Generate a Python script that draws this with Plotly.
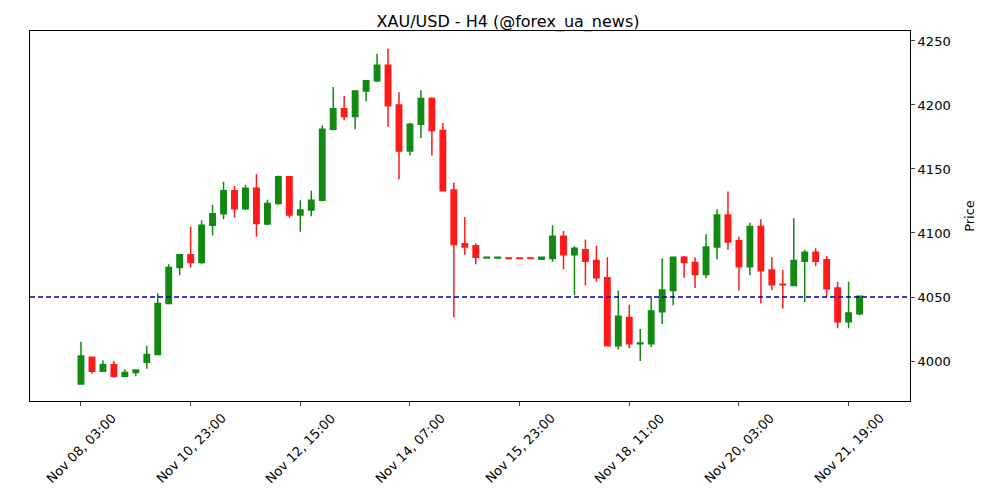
import plotly.graph_objects as go

opens = [3982, 4003, 3992, 3997, 3988, 3991, 3999, 4005, 4045, 4073,
         4083, 4077, 4106, 4115, 4133, 4119, 4135, 4107, 4123, 4144,
         4114, 4118, 4125.5, 4181, 4197, 4191, 4211, 4219, 4231, 4200,
         4164, 4185, 4205, 4180, 4133.5, 4091.5, 4090, 4080.5, 4080.5, 4080.5,
         4080.5, 4080.5, 4079.5, 4080, 4097.5, 4083, 4087, 4078.6, 4065, 4012,
         4034, 4013.5, 4013.5, 4038.5, 4055, 4081, 4077, 4067.5, 4089, 4114,
         4094, 4073.6, 4105, 4071, 4060, 4059, 4078, 4085, 4079, 4057,
         4030.7, 4037]
closes = [4004, 3992, 3997, 3988, 3991, 3993, 4005, 4045, 4073, 4083,
          4077, 4106, 4115, 4133, 4119, 4135, 4107.5, 4123, 4144, 4114,
          4118, 4125.5, 4181, 4197, 4191, 4211, 4219, 4231, 4199.5, 4164,
          4185, 4205, 4180, 4133, 4091, 4089, 4081, 4081, 4081, 4080,
          4080, 4080, 4081, 4097.5, 4083, 4088, 4078, 4065, 4012, 4035,
          4013.5, 4014, 4039, 4055.5, 4081, 4077, 4067.5, 4089, 4114, 4093,
          4073.6, 4105, 4070.5, 4059.6, 4059.5, 4078.6, 4085, 4078, 4056.5, 4030.7,
          4037.5, 4050.5]
highs = [4015, 4003, 4000.5, 4000, 3993.5, 3993, 4012, 4053, 4075.5, 4083,
         4105, 4110, 4122, 4140, 4137, 4137.5, 4146, 4126, 4145, 4144.5,
         4125.5, 4133, 4184, 4214, 4207, 4211.5, 4219.5, 4240, 4244, 4210,
         4186, 4211.5, 4206, 4186, 4139.5, 4112.5, 4092, 4081.3, 4081.3, 4080.8,
         4080.8, 4080.8, 4081.3, 4106, 4101.5, 4089.6, 4095, 4090, 4081, 4055,
         4044, 4025, 4050.5, 4080, 4081.3, 4082, 4081, 4099, 4118.5, 4132.5,
         4097, 4108, 4110.7, 4081, 4071, 4111.5, 4087, 4088, 4082, 4062,
         4062, 4051]
lows = [3981.5, 3990, 3992, 3987, 3988, 3988, 3994, 4004.5, 4044.5, 4067,
        4073, 4076, 4098, 4111, 4112, 4118, 4097, 4106, 4122, 4112,
        4101, 4113, 4125, 4180, 4188, 4181, 4203, 4218, 4183, 4142,
        4160.5, 4174, 4160.5, 4132.5, 4034, 4083, 4075.5, 4080, 4080, 4079.7,
        4079.7, 4079.7, 4079.3, 4077.5, 4071.6, 4051.6, 4059, 4062, 4011.5, 4009,
        4010, 4000, 4011, 4029, 4043.5, 4065, 4057, 4064.6, 4079.5, 4087,
        4055, 4067, 4045, 4055.5, 4041, 4058.5, 4046, 4074, 4050, 4025.5,
        4025.5, 4035.7]

tick_idx = [0, 10, 20, 30, 40, 50, 60, 70]
tick_labels = ["Nov 08, 03:00", "Nov 10, 23:00", "Nov 12, 15:00", "Nov 14, 07:00",
               "Nov 15, 23:00", "Nov 18, 11:00", "Nov 20, 03:00", "Nov 21, 19:00"]
ref_level = 4050

x = list(range(len(opens)))

fig = go.Figure()
fig.add_trace(go.Candlestick(
    x=x, open=opens, high=highs, low=lows, close=closes,
    increasing=dict(line=dict(color="#128a12", width=1.5), fillcolor="#128a12"),
    decreasing=dict(line=dict(color="#ff1a1a", width=1.5), fillcolor="#ff1a1a"),
    whiskerwidth=0, showlegend=False, hoverinfo="x+y",
))
fig.add_hline(y=ref_level, line=dict(color="#0000a0", width=1.3, dash="5px,3px"))

# rotated date labels centred under their ticks, as matplotlib does
for t, lab in zip(tick_idx, tick_labels):
    fig.add_annotation(x=t, y=0, xref="x", yref="paper", text=lab, showarrow=False,
                       textangle=-45, xanchor="center", yanchor="middle",
                       yshift=-47, font=dict(size=13))

fig.update_layout(
    width=1000, height=500, template="plotly_white",
    plot_bgcolor="white", paper_bgcolor="white",
    margin=dict(l=22, r=98, t=23, b=107),
    font=dict(family="DejaVu Sans", size=13, color="black"),
    title=dict(text="XAU/USD - H4 (@forex_ua_news)", x=0.5, xanchor="center",
               y=0.985, yanchor="top", font=dict(size=16)),
    xaxis=dict(range=[-4.65, 75.6], tickvals=tick_idx, showticklabels=False,
               showgrid=False, rangeslider=dict(visible=False),
               showline=True, linecolor="black", mirror=True, ticks="outside",
               ticklen=4, zeroline=False),
    yaxis=dict(range=[3968.75, 4257.8], side="right",
               title=dict(text="Price", font=dict(size=13)),
               dtick=50, showgrid=False, showline=True, linecolor="black",
               mirror=True, ticks="outside", ticklen=4, zeroline=False),
)

fig.write_html("out.html")
